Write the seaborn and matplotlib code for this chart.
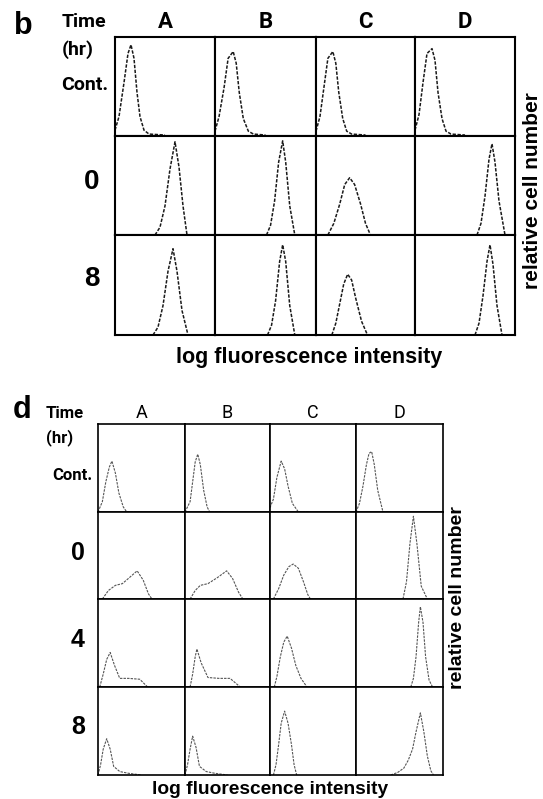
import matplotlib
matplotlib.use("Agg")
import matplotlib.pyplot as plt
import seaborn as sns

sns.set_theme(style="white")
plt.rcParams['font.family'] = ['Liberation Sans', 'DejaVu Sans']
plt.rcParams['text.color'] = 'black'

# ---- data: each curve is (x fractions along log axis, relative cell number) ----
columns = ["A", "B", "C", "D"]

b_rows = ["Cont.", "0", "8"]
b_cont = [
    ([0.0, 0.04, 0.09, 0.13, 0.16, 0.19, 0.22, 0.25, 0.29, 0.34, 0.5],
     [0.06, 0.2, 0.55, 0.85, 0.94, 0.8, 0.45, 0.2, 0.06, 0.02, 0.01]),
    ([0.0, 0.04, 0.09, 0.13, 0.18, 0.21, 0.24, 0.28, 0.33, 0.38, 0.5],
     [0.05, 0.2, 0.5, 0.8, 0.87, 0.75, 0.45, 0.18, 0.05, 0.02, 0.01]),
    ([0.0, 0.04, 0.08, 0.12, 0.17, 0.2, 0.23, 0.27, 0.31, 0.36, 0.5],
     [0.05, 0.2, 0.5, 0.8, 0.87, 0.75, 0.45, 0.18, 0.05, 0.02, 0.01]),
    ([0.0, 0.04, 0.08, 0.12, 0.17, 0.2, 0.23, 0.27, 0.31, 0.36, 0.5],
     [0.06, 0.22, 0.55, 0.85, 0.9, 0.78, 0.45, 0.18, 0.05, 0.02, 0.01]),
]
b_zero = [
    ([0.4, 0.45, 0.5, 0.55, 0.6, 0.64, 0.68, 0.72],
     [0.0, 0.08, 0.3, 0.68, 0.96, 0.7, 0.3, 0.0]),
    ([0.51, 0.55, 0.59, 0.63, 0.67, 0.7, 0.74, 0.79],
     [0.0, 0.1, 0.35, 0.75, 0.97, 0.75, 0.3, 0.0]),
    ([0.12, 0.18, 0.24, 0.29, 0.34, 0.39, 0.45, 0.5, 0.55],
     [0.0, 0.12, 0.32, 0.52, 0.59, 0.52, 0.32, 0.12, 0.0]),
    ([0.62, 0.66, 0.7, 0.74, 0.77, 0.8, 0.84, 0.9],
     [0.0, 0.12, 0.4, 0.78, 0.94, 0.75, 0.35, 0.0]),
]
b_eight = [
    ([0.38, 0.43, 0.48, 0.53, 0.58, 0.62, 0.67, 0.73],
     [0.0, 0.08, 0.3, 0.65, 0.88, 0.65, 0.25, 0.0]),
    ([0.52, 0.56, 0.6, 0.64, 0.67, 0.7, 0.74, 0.79],
     [0.0, 0.1, 0.35, 0.75, 0.92, 0.75, 0.3, 0.0]),
    ([0.16, 0.2, 0.24, 0.28, 0.32, 0.36, 0.4, 0.46, 0.52],
     [0.0, 0.12, 0.32, 0.52, 0.62, 0.56, 0.38, 0.14, 0.0]),
    ([0.6, 0.64, 0.68, 0.72, 0.75, 0.78, 0.82, 0.87],
     [0.0, 0.12, 0.4, 0.75, 0.92, 0.72, 0.3, 0.0]),
]

d_rows = ["Cont.", "0", "4", "8"]
d_cont = [
    ([0.0, 0.05, 0.09, 0.13, 0.16, 0.2, 0.24, 0.29, 0.33, 0.5],
     [0.0, 0.12, 0.35, 0.52, 0.59, 0.45, 0.22, 0.06, 0.0, 0.0]),
    ([0.0, 0.06, 0.09, 0.12, 0.15, 0.18, 0.22, 0.26, 0.29, 0.45],
     [0.0, 0.12, 0.35, 0.58, 0.67, 0.55, 0.25, 0.06, 0.0, 0.0]),
    ([0.0, 0.04, 0.08, 0.13, 0.17, 0.21, 0.26, 0.33, 0.45],
     [0.05, 0.15, 0.4, 0.59, 0.5, 0.3, 0.1, 0.0, 0.0]),
    ([0.0, 0.04, 0.08, 0.12, 0.15, 0.18, 0.21, 0.25, 0.31, 0.4],
     [0.0, 0.1, 0.3, 0.55, 0.68, 0.7, 0.55, 0.25, 0.0, 0.0]),
]
d_zero = [
    ([0.05, 0.12, 0.2, 0.28, 0.36, 0.45, 0.52, 0.58, 0.62],
     [0.0, 0.1, 0.16, 0.18, 0.25, 0.33, 0.22, 0.06, 0.0]),
    ([0.06, 0.12, 0.18, 0.27, 0.38, 0.49, 0.56, 0.63, 0.68],
     [0.0, 0.1, 0.16, 0.18, 0.25, 0.33, 0.24, 0.08, 0.0]),
    ([0.04, 0.1, 0.16, 0.22, 0.27, 0.33, 0.39, 0.44, 0.47],
     [0.0, 0.12, 0.28, 0.38, 0.41, 0.36, 0.2, 0.05, 0.0]),
    ([0.54, 0.58, 0.62, 0.66, 0.7, 0.75, 0.82],
     [0.0, 0.2, 0.65, 0.97, 0.65, 0.15, 0.0]),
]
d_four = [
    ([0.02, 0.06, 0.1, 0.14, 0.19, 0.25, 0.35, 0.48, 0.57],
     [0.0, 0.15, 0.32, 0.4, 0.25, 0.1, 0.1, 0.09, 0.0]),
    ([0.06, 0.09, 0.12, 0.14, 0.19, 0.27, 0.4, 0.53, 0.65],
     [0.0, 0.15, 0.35, 0.44, 0.28, 0.11, 0.1, 0.1, 0.0]),
    ([0.05, 0.08, 0.12, 0.16, 0.2, 0.25, 0.3, 0.36, 0.43],
     [0.0, 0.12, 0.35, 0.52, 0.59, 0.45, 0.25, 0.1, 0.0]),
    ([0.63, 0.66, 0.69, 0.72, 0.74, 0.77, 0.8, 0.84, 0.88],
     [0.0, 0.1, 0.35, 0.75, 0.93, 0.75, 0.35, 0.08, 0.0]),
]
d_eight = [
    ([0.0, 0.03, 0.06, 0.1, 0.14, 0.18, 0.25, 0.35, 0.5],
     [0.0, 0.12, 0.3, 0.42, 0.3, 0.1, 0.04, 0.02, 0.0]),
    ([0.0, 0.03, 0.06, 0.09, 0.13, 0.17, 0.25, 0.35, 0.5],
     [0.0, 0.12, 0.3, 0.45, 0.32, 0.1, 0.04, 0.02, 0.0]),
    ([0.04, 0.07, 0.1, 0.13, 0.17, 0.21, 0.25, 0.28, 0.31],
     [0.0, 0.12, 0.35, 0.6, 0.74, 0.6, 0.35, 0.12, 0.0]),
    ([0.4, 0.48, 0.55, 0.6, 0.65, 0.69, 0.74, 0.78, 0.82, 0.86, 0.89],
     [0.0, 0.03, 0.08, 0.17, 0.3, 0.5, 0.72, 0.5, 0.22, 0.05, 0.0]),
]

W, H = 543, 799
fig = plt.figure(figsize=(W / 100, H / 100), dpi=100)


def px_axes(x0, y0, x1, y1):
    # pixel box (top-left origin) -> figure axes
    return fig.add_axes([x0 / W, 1 - y1 / H, (x1 - x0) / W, (y1 - y0) / H])


def draw_panel(col_px, row_px, rows_data, color, lw_frame, lw_curve):
    for r, row in enumerate(rows_data):
        for c, (xs, ys) in enumerate(row):
            ax = px_axes(col_px[c], row_px[r], col_px[c + 1], row_px[r + 1])
            sns.lineplot(x=xs, y=ys, ax=ax, color=color, lw=lw_curve,
                         linestyle=(0, (2.2, 1.0)), sort=False)
            ax.set_xlim(0, 1)
            ax.set_ylim(0, 1.02)
            ax.set_xticks([])
            ax.set_yticks([])
            ax.set_xlabel("")
            ax.set_ylabel("")
            for s in ax.spines.values():
                s.set_color("black")
                s.set_linewidth(lw_frame)


def ftext(x, y, s, **kw):
    fig.text(x / W, 1 - y / H, s, **kw)


narrow = ['Roboto', 'DejaVu Sans']

# ---- panel b ----
b_cols = [115, 215, 316, 415, 515]
b_rowpx = [37, 136, 235, 335]
draw_panel(b_cols, b_rowpx, [b_cont, b_zero, b_eight], "#1a1a1a", 1.5, 1.1)

ftext(23, 26, "b", fontsize=22, fontweight="bold", ha="center", va="center")
ftext(62, 22, "Time", fontsize=14, fontweight="bold", family=narrow, ha="left", va="center")
ftext(62, 50, "(hr)", fontsize=14, fontweight="bold", family=narrow, ha="left", va="center")
ftext(108, 85, "Cont.", fontsize=14, fontweight="bold", family=narrow, ha="right", va="center")
for lab, yy in zip(b_rows[1:], [182, 279]):
    ftext(92, yy, lab, fontsize=20, fontweight="bold", ha="center", va="center")
for c, lab in enumerate(columns):
    xc = (b_cols[c] + b_cols[c + 1]) / 2
    ftext(xc, 22, lab, fontsize=16, fontweight="bold", family=narrow, ha="center", va="center")
ftext(309, 357, "log fluorescence intensity", fontsize=15.5, fontweight="bold", ha="center", va="center")
ftext(533, 191, "relative cell number", fontsize=15, fontweight="bold", rotation=90, ha="center", va="center")

# ---- panel d ----
d_cols = [98, 185, 270, 356, 443]
d_rowpx = [424, 512, 599, 687, 775]
draw_panel(d_cols, d_rowpx, [d_cont, d_zero, d_four, d_eight], "#555555", 1.2, 0.8)

ftext(22, 410, "d", fontsize=22, fontweight="bold", ha="center", va="center")
ftext(46, 414, "Time", fontsize=12, fontweight="bold", family=narrow, ha="left", va="center")
ftext(46, 438, "(hr)", fontsize=12, fontweight="bold", family=narrow, ha="left", va="center")
ftext(92, 475, "Cont.", fontsize=12, fontweight="bold", family=narrow, ha="right", va="center")
for lab, yy in zip(d_rows[1:], [553, 640, 727]):
    ftext(78, yy, lab, fontsize=18, fontweight="bold", ha="center", va="center")
for c, lab in enumerate(columns):
    xc = (d_cols[c] + d_cols[c + 1]) / 2
    ftext(xc, 413, lab, fontsize=13, family=narrow, ha="center", va="center")
ftext(270, 789, "log fluorescence intensity", fontsize=13.8, fontweight="bold", ha="center", va="center")
ftext(457, 598, "relative cell number", fontsize=14, fontweight="bold", rotation=90, ha="center", va="center")

fig.savefig("out.png", dpi=100)
